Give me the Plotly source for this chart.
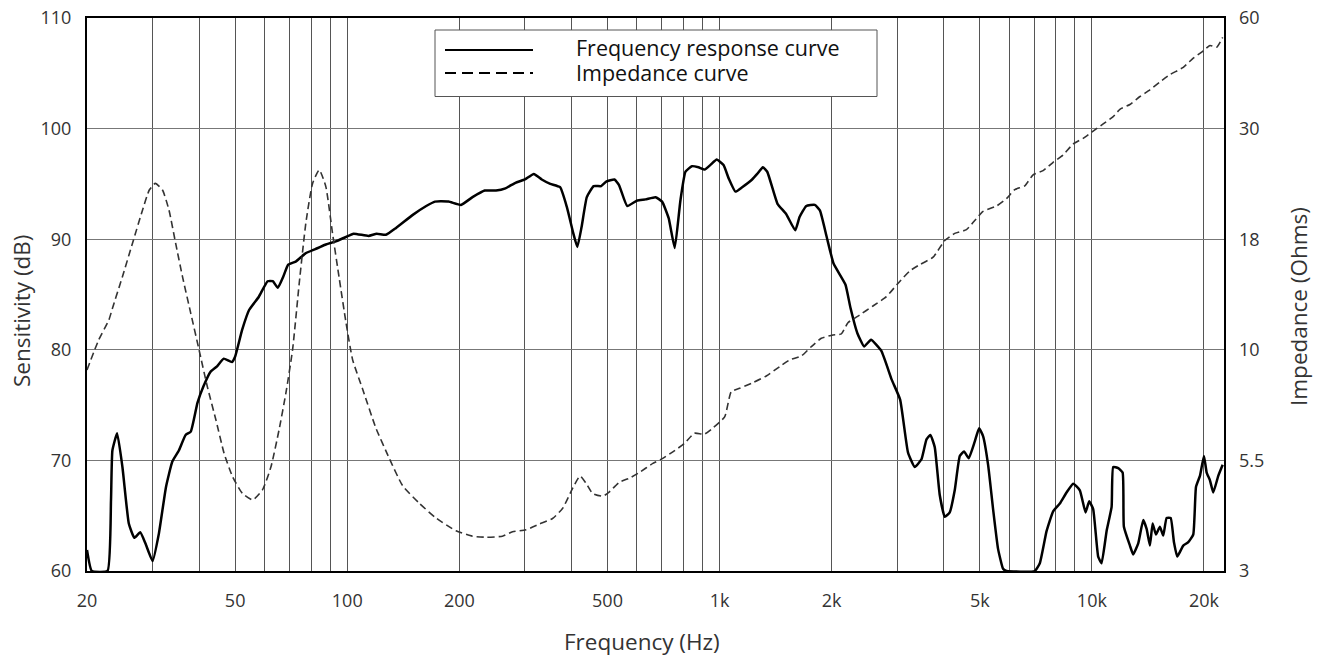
import numpy as np
import plotly.graph_objects as go

# ---------------- data ----------------
freq_fr = [20, 20.6, 22.7, 23.2, 23.4, 24.1, 24.9, 25.9, 26.8, 27.8, 28.7, 30.0, 31.2, 32.6, 33.9,
           35.3, 36.8, 38.0, 39.6, 41.1, 42.9, 44.7, 46.6, 49.0, 50.0, 52.2, 54.5, 57.9, 61.1, 63.1,
           65.1, 67.3, 69.4, 72.9, 77.1, 82.1, 87.3, 93.2, 99.1, 104, 114, 120, 127, 135, 150, 163,
           172, 187, 202, 217, 234, 251, 266, 283, 300, 317, 333, 351, 373, 389, 405, 415, 426, 440,
           459, 481, 496, 522, 537, 565, 601, 633, 673, 701, 730, 758, 785, 810, 843, 878, 912, 944,
           983, 1025, 1058, 1103, 1150, 1223, 1262, 1307, 1343, 1431, 1508, 1597, 1640, 1710, 1802,
           1860, 1940, 2024, 2178, 2247, 2345, 2445, 2551, 2720, 2900, 3055, 3208, 3344, 3486, 3596,
           3684, 3784, 3902, 4026, 4152, 4282, 4418, 4536, 4670, 4846, 4978, 5102, 5264, 5428, 5598,
           5774, 5900, 7026, 7248, 7556, 7870, 8202, 8550, 8908, 9284, 9616, 9834, 10080, 10398,
           10618, 10952, 11298, 11410, 11768, 12094, 12190, 12652, 12912, 13320, 13738, 14030, 14318,
           14560, 14860, 15232, 15548, 15878, 16278, 16614, 16956, 17598, 18152, 18722, 19038, 19510,
           20000, 20338, 20756, 21186, 21852, 22458]
spl_db = [61.9, 60.0, 60.0, 66.4, 70.9, 72.45, 69.4, 64.3, 63.0, 63.5, 62.5, 60.9, 63.4, 67.6, 69.9,
          70.9, 72.3, 72.6, 75.2, 76.7, 78.0, 78.5, 79.2, 78.9, 79.4, 81.8, 83.6, 84.8, 86.2, 86.2,
          85.6, 86.6, 87.7, 88.0, 88.7, 89.1, 89.5, 89.8, 90.2, 90.5, 90.3, 90.5, 90.4, 91.0, 92.2, 93.0,
          93.4, 93.4, 93.1, 93.8, 94.4, 94.4, 94.6, 95.1, 95.4, 95.9, 95.4, 95.0, 94.7, 92.9, 90.5, 89.3,
          91.1, 93.8, 94.8, 94.8, 95.2, 95.4, 94.9, 93.0, 93.5, 93.6, 93.8, 93.4, 91.9, 89.2, 93.5, 96.1,
          96.6, 96.5, 96.3, 96.7, 97.2, 96.7, 95.5, 94.3, 94.7, 95.4, 95.9, 96.5, 96.1, 93.2, 92.3, 90.8,
          92.0, 93.0, 93.1, 92.6, 90.2, 87.8, 85.9, 83.8, 81.5, 80.3, 80.9, 79.9, 77.3, 75.5, 70.7, 69.4,
          70.1, 71.9, 72.3, 71.2, 66.9, 64.9, 65.3, 67.3, 70.4, 70.8, 70.2, 71.7, 72.9, 72.2, 69.6, 65.6,
          62.0, 60.2, 60.0, 60.0, 60.7, 63.6, 65.4, 66.1, 67.1, 67.9, 67.3, 65.3, 66.3, 65.6, 61.3, 60.7,
          63.6, 65.8, 69.4, 69.3, 68.9, 64.0, 62.3, 61.5, 62.5, 64.6, 63.8, 62.3, 64.3, 63.3, 64.0, 63.2,
          64.8, 64.8, 62.6, 61.3, 62.3, 62.6, 63.3, 67.6, 68.6, 70.4, 68.9, 68.2, 67.1, 68.6, 69.6]

freq_imp = [20, 21.5, 22.9, 23.4, 24.9, 26.5, 28.2, 29.4, 30.5, 31.9, 33.2, 34.6, 36.1, 38.0, 40.0,
            42.1, 44.4, 46.7, 49.2, 52.3, 55.7, 59.2, 62.4, 65.6, 68.4, 71.3, 74.3, 77.4, 80.7, 84.1,
            87.6, 91.3, 95.2, 99.2, 103.4, 109.9, 119.4, 129.7, 140.8, 156.1, 173.2, 196, 217, 236,
            261, 278, 302, 328, 356, 379, 403, 422, 438, 456, 486, 506, 538, 573, 605, 662, 704, 749,
            805, 856, 911, 959, 1032, 1075, 1132, 1228, 1335, 1450, 1543, 1658, 1764, 1876, 2016, 2124,
            2212, 2378, 2582, 2806, 3014, 3242, 3448, 3746, 4026, 4282, 4604, 4846, 5102, 5544, 5898,
            6208, 6604, 6952, 7396, 7870, 8374, 8908, 9474, 10080, 10724, 11410, 11892, 12652, 13460,
            14318, 15232, 16206, 17598, 18722, 19914, 20756, 21636, 22458]
imp_ohm = [8.97, 10.54, 11.72, 12.46, 14.75, 17.62, 20.60, 22.59, 23.29, 22.59, 20.60, 17.62, 14.75,
           12.14, 9.99, 8.19, 6.84, 5.71, 5.03, 4.59, 4.43, 4.68, 5.31, 6.49, 7.90, 9.99, 14.23, 19.37,
           23.29, 24.79, 22.95, 18.49, 14.6, 11.58, 9.47, 8.10, 6.55, 5.56, 4.79, 4.35, 4.01, 3.74, 3.63,
           3.61, 3.63, 3.72, 3.76, 3.88, 4.00, 4.23, 4.72, 5.05, 4.85, 4.59, 4.52, 4.63, 4.88, 4.99, 5.13,
           5.41, 5.56, 5.76, 6.03, 6.37, 6.34, 6.55, 6.96, 7.97, 8.12, 8.37, 8.68, 9.13, 9.47, 9.67,
           10.17, 10.63, 10.82, 10.88, 11.55, 12.03, 12.62, 13.26, 14.23, 15.2, 15.72, 16.36, 17.87,
           18.49, 18.81, 19.62, 20.47, 20.98, 21.71, 22.64, 23.03, 24.23, 24.71, 25.68, 26.57, 27.94,
           28.67, 29.65, 30.90, 32.34, 33.86, 34.89, 36.68, 38.24, 40.19, 42.08, 44.04, 46.65, 48.82,
           50.51, 49.95, 53.12]

x_tick_vals = [20, 50, 100, 200, 500, 1000, 2000, 5000, 10000, 20000]
x_tick_text = ["20", "50", "100", "200", "500", "1k", "2k", "5k", "10k", "20k"]
x_minor_grid = [30, 40, 60, 70, 80, 90, 300, 400, 600, 700, 800, 900,
                3000, 4000, 6000, 7000, 8000, 9000]
db_ticks = [60, 70, 80, 90, 100, 110]
imp_tick_labels = [3, 5.5, 10, 18, 30, 60]

# the right-hand impedance scale is spaced evenly between its labelled values
imp_tick_pos = list(range(len(imp_tick_labels)))
imp_pos = np.interp(np.log(imp_ohm), np.log(imp_tick_labels), imp_tick_pos)

FONT = "Open Sans"
TXT = "#333333"

fig = go.Figure()
fig.add_trace(go.Scatter(x=freq_imp, y=imp_pos, yaxis="y2", mode="lines",
                         line=dict(color="#333333", width=1.6, dash="7px,4px", shape="spline", smoothing=0.5),
                         name="Impedance curve", showlegend=False, hoverinfo="skip"))
fig.add_trace(go.Scatter(x=freq_fr, y=spl_db, mode="lines",
                         line=dict(color="#000000", width=2.5, shape="spline", smoothing=0.4),
                         name="Frequency response curve", showlegend=False, hoverinfo="skip"))

# plot-area corners in the 1321x657 window
L, R, T, B = 87, 1224, 18, 571
W, H = 1321, 657


def px(x):
    return (x - L) / (R - L)


def py(y):
    return (B - y) / (B - T)


shapes = [
    dict(type="rect", xref="paper", yref="paper", x0=px(435), x1=px(877), y0=py(96.5), y1=py(30),
         line=dict(color="#555555", width=1), fillcolor="white", layer="above"),
    dict(type="line", xref="paper", yref="paper", x0=px(445), x1=px(533), y0=py(50), y1=py(50),
         line=dict(color="#000000", width=2), layer="above"),
    dict(type="line", xref="paper", yref="paper", x0=px(445), x1=px(533), y0=py(73), y1=py(73),
         line=dict(color="#000000", width=1.8, dash="11px,6px"), layer="above"),
]

annotations = [
    dict(text="Frequency response curve", xref="paper", yref="paper", x=px(574), y=py(47.5),
         xanchor="left", yanchor="middle", showarrow=False, font=dict(family=FONT, size=21.5, color="#111")),
    dict(text="Impedance curve", xref="paper", yref="paper", x=px(574), y=py(72),
         xanchor="left", yanchor="middle", showarrow=False, font=dict(family=FONT, size=21.5, color="#111")),
    dict(text="Frequency (Hz)", xref="paper", yref="paper", x=px(642), y=py(641),
         xanchor="center", yanchor="middle", showarrow=False, font=dict(family=FONT, size=22.5, color=TXT)),
    dict(text="Sensitivity (dB)", xref="paper", yref="paper", x=px(21), y=py(311),
         xanchor="center", yanchor="middle", textangle=-90, showarrow=False,
         font=dict(family=FONT, size=22.5, color=TXT)),
    dict(text="Impedance (Ohms)", xref="paper", yref="paper", x=px(1298), y=py(307),
         xanchor="center", yanchor="middle", textangle=-90, showarrow=False,
         font=dict(family=FONT, size=22.5, color=TXT)),
]

fig.update_layout(
    width=W, height=H, autosize=False,
    margin=dict(l=L, r=W - R, t=T, b=H - B, pad=0, autoexpand=False),
    paper_bgcolor="white", plot_bgcolor="white",
    font=dict(family=FONT, size=18, color=TXT),
    shapes=shapes, annotations=annotations,
    xaxis=dict(type="log", range=[np.log10(20), np.log10(22640)], automargin=False,
               tickmode="array", tickvals=x_tick_vals, ticktext=x_tick_text,
               showgrid=True, gridcolor="#555555", gridwidth=1,
               minor=dict(tickmode="array", tickvals=x_minor_grid, showgrid=True,
                          gridcolor="#555555", gridwidth=1, ticks=""),
               showline=True, linecolor="#000000", linewidth=2, mirror=True,
               ticks="", ticklabelstandoff=12, zeroline=False, ticklabeloverflow="allow",
               tickfont=dict(family=FONT, size=18, color=TXT)),
    yaxis=dict(range=[60, 110], tickmode="array", tickvals=db_ticks, automargin=False,
               showgrid=True, gridcolor="#777777", gridwidth=1,
               showline=True, linecolor="#000000", linewidth=2, mirror=True,
               ticks="", ticklabelstandoff=10, zeroline=False, ticklabeloverflow="allow",
               tickfont=dict(family=FONT, size=18, color=TXT)),
    yaxis2=dict(overlaying="y", side="right", range=[0, 5], tickmode="array", automargin=False,
                tickvals=imp_tick_pos, ticktext=[str(v) for v in imp_tick_labels],
                showgrid=False, showline=False, ticks="", ticklabelstandoff=14, zeroline=False,
                ticklabeloverflow="allow",
                tickfont=dict(family=FONT, size=18, color=TXT)),
)

# remove the page's default body margin so the 1321x657 figure fills the window exactly
fig.write_html("out.html",
               config={"displayModeBar": False, "staticPlot": True},
               post_script="document.body.style.margin='0';document.body.style.overflow='hidden';")
